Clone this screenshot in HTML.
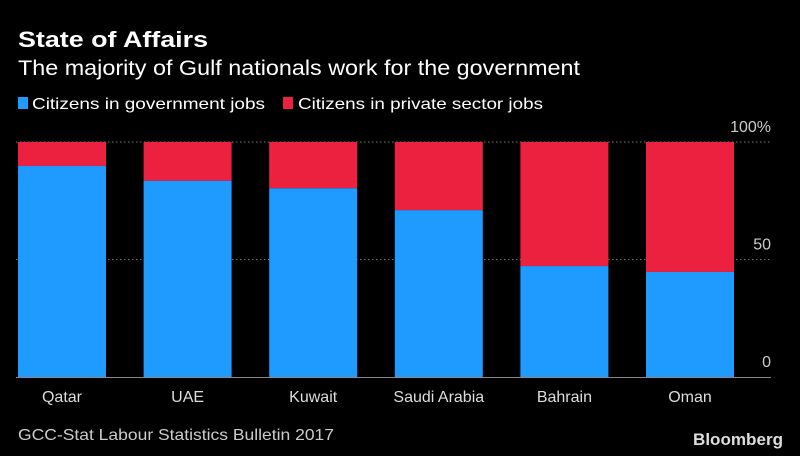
<!DOCTYPE html>
<html><head><meta charset="utf-8"><style>
html,body{margin:0;padding:0;background:#000;}
svg{display:block;font-family:"Liberation Sans",sans-serif;}
</style></head><body>
<svg id="chart" width="800" height="456" viewBox="0 0 800 456">
<rect width="800" height="456" fill="#000"/>
<text x="18" y="47" font-size="22" font-weight="bold" fill="#fff" textLength="190" lengthAdjust="spacingAndGlyphs">State of Affairs</text>
<text x="18" y="75" font-size="21" fill="#fff" textLength="562" lengthAdjust="spacingAndGlyphs">The majority of Gulf nationals work for the government</text>
<g>
<rect x="18" y="97" width="10" height="12" fill="#1f9bff"/>
<text x="32" y="109" font-size="16" fill="#fff" textLength="233" lengthAdjust="spacingAndGlyphs">Citizens in government jobs</text>
<rect x="283" y="97" width="10" height="12" fill="#ec2140"/>
<text x="298" y="109" font-size="16" fill="#fff" textLength="245" lengthAdjust="spacingAndGlyphs">Citizens in private sector jobs</text>
</g>
<g id="grid"></g>
<g id="bars"></g>
<g id="xlabels"></g>
<g id="ylabels"></g>
<text x="18" y="440" font-size="16" fill="#ccc" textLength="316" lengthAdjust="spacingAndGlyphs">GCC-Stat Labour Statistics Bulletin 2017</text>
<text x="783" y="445" font-size="17" font-weight="bold" fill="#ddd" text-anchor="end" textLength="90" lengthAdjust="spacingAndGlyphs">Bloomberg</text>
</svg>
<script>
const categories = ["Qatar","UAE","Kuwait","Saudi Arabia","Bahrain","Oman"];
const governmentValues = [89.8, 83.5, 80.3, 71, 47.2, 44.7];
const yTicks = [0, 50, 100];
const yTickLabels = ["0", "50", "100%"];

const NS = "http://www.w3.org/2000/svg";
const y0 = 377, y100 = 142, xStart = 18, step = 125.6, barW = 88;
function yScale(v){ return y0 - (y0 - y100) * v / 100; }
function xScale(i){ return xStart + i * step; }
function mk(tag, attrs, parent){
  const e = document.createElementNS(NS, tag);
  for (const k in attrs) e.setAttribute(k, attrs[k]);
  parent.appendChild(e); return e;
}
const grid = document.getElementById("grid");
const bars = document.getElementById("bars");
const xl = document.getElementById("xlabels");
const yl = document.getElementById("ylabels");

yTicks.forEach((t, i) => {
  const y = yScale(t);
  let l;
  if (t === 0) {
    l = mk("line", {x1: 16, x2: 771, y1: y + 0.5, y2: y + 0.5, stroke: "#888", "stroke-width": 1}, grid);
  } else {
    l = mk("line", {x1: 16, x2: 771, y1: y, y2: y, stroke: "#777", "stroke-width": 1, "stroke-dasharray": "1.5,2.5"}, grid);
  }
  
  
  const tx = mk("text", {x: 771, y: y - 10, "font-size": 16, fill: "#ccc", "text-anchor": "end"}, yl);
  tx.textContent = yTickLabels[i];
  
  
});

categories.forEach((c, i) => {
  const x = xScale(i);
  const g = governmentValues[i];
  const r = mk("rect", {x: x, y: yScale(100), width: barW, height: yScale(g) - yScale(100), fill: "#ec2140"}, bars);
  
  
  const b = mk("rect", {x: x, y: yScale(g), width: barW, height: y0 - yScale(g), fill: "#1f9bff"}, bars);
  
  
  const t = mk("text", {x: x + barW / 2, y: 402, "font-size": 16, fill: "#ddd", "text-anchor": "middle"}, xl);
  t.textContent = c;
  
  
});
</script>
</body></html>
